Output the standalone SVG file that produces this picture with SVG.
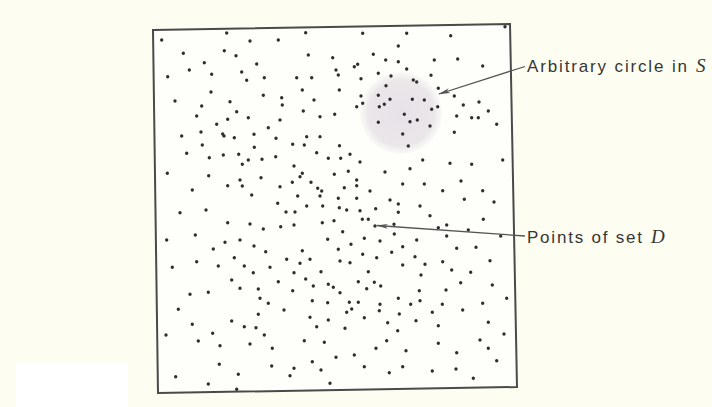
<svg xmlns="http://www.w3.org/2000/svg" width="712" height="407" viewBox="0 0 712 407">
<style>
.lbl{font-family:"Liberation Sans",Arial,sans-serif;font-size:17px;fill:#363636}
.it{font-family:"Liberation Serif","Times New Roman",serif;font-style:italic;font-size:19px;fill:#363636}
.lead{stroke:#555;stroke-width:1.3;fill:none;marker-end:url(#ah)}
.dots{stroke:#2e2e2e;stroke-width:3.4;stroke-linecap:round;fill:none}
</style>
<defs>
<marker id="ah" viewBox="0 0 12 6" refX="11" refY="3" markerWidth="12" markerHeight="6" markerUnits="userSpaceOnUse" orient="auto">
<path d="M0,0.6 L12,3 L0,5.4 L3,3 z" fill="#555"/>
</marker>
<radialGradient id="cg" cx="0.5" cy="0.5" r="0.5">
<stop offset="0" stop-color="#e7e2e7"/>
<stop offset="0.8" stop-color="#eae6ea"/>
<stop offset="1" stop-color="#f1efee" stop-opacity="0.3"/>
</radialGradient>
</defs>
<rect width="712" height="407" fill="#fdfdf1"/>
<g id="frame">
<polygon points="153,30 510,24 517,387 158,393" fill="#fefefa" stroke="#4a4a4a" stroke-width="2"/>
</g>
<g id="circle-s">
<ellipse cx="401" cy="113" rx="41" ry="41" fill="url(#cg)"/>
</g>
<g id="points-d">
<path class="dots" d="M161.7 40h0M183.3 53.3h0M204.3 62.7h0M189.3 70h0M167.7 76.7h0M211.7 74.3h0M224.3 50.7h0M236 55.7h0M250 41h0M278.3 40h0M305.7 32.7h0M308.3 55h0M332.7 57.7h0M336 70h0M338.3 75h0M256.7 64h0M241.7 72h0M246.7 80.3h0M264.3 77.7h0M296.7 77.7h0M311.7 77.7h0M211 92h0M175 101h0M201.7 106h0M230 101.7h0M263.3 95.3h0M281.7 97.7h0M282.3 105h0M302.3 90h0M314 100h0M303.3 111h0M320 116.7h0M334.7 114.3h0M196.7 116h0M227.7 119.3h0M236.7 111.7h0M248.3 117.7h0M280 120h0M216.7 124.3h0M268.3 127.7h0M201 132h0M222.7 134h0M224 136h0M181.7 136h0M234.3 137.7h0M254 134.3h0M276 138.3h0M306.7 136.7h0M320 136.7h0M339.3 90h0M226.7 33h0
M362.7 33.3h0M406.7 33.3h0M450.7 35.7h0M505 26.7h0M398.3 46h0M373.3 54.3h0M385.7 60h0M398.3 61.7h0M434.3 60h0M457.7 59h0M482.7 66h0M354.3 66.7h0M357.7 64.3h0M406.7 69h0M378.3 73.3h0M391 76h0M431 75.3h0M361 78.7h0M413.3 80h0M416.7 82h0M386 85.7h0M438.3 88.3h0M361 96h0M378.3 95.3h0M390 99.3h0M412.3 99.3h0M424.3 100h0M454.3 96h0M362.7 103.3h0M356.7 106.7h0M379.3 106.7h0M384.3 104.3h0M431.7 109.3h0M437.7 106.7h0M463.3 105h0M479 102h0M488.3 111h0M404.3 114.3h0M456.7 116h0M471.7 117.7h0M478.3 117.7h0M496.7 124.3h0M378.3 122.3h0M410 121.7h0M417.3 120h0M430 126h0M402.7 134h0M454.3 132.3h0
M202.3 145h0M186.7 153.3h0M223.3 155h0M238.7 154.3h0M248.3 160h0M254.3 147.3h0M242.3 164.3h0M209.3 157.7h0M262 159.3h0M275.7 156.7h0M292.7 144.3h0M304.3 145h0M316.7 152.7h0M328.3 158.3h0M339.5 145.7h0M167.3 173.3h0M208.7 175.7h0M240 180h0M242.3 186h0M227.7 185.7h0M261 177.7h0M294 166h0M302.3 173.3h0M300 176.7h0M292.3 182.3h0M311 182.3h0M334.3 174.3h0M280 186.7h0M317.7 188.3h0M321.7 191h0M192.3 190h0M251.7 195h0M297.7 196h0M320 196h0M338.3 198.3h0M277.7 203.3h0M306.7 206h0M322.7 206h0M206 210h0M180 212.7h0M286 212h0M295 212h0M339.3 207.7h0M227.7 222.7h0M250 224h0M263.3 229h0M280.7 226.7h0M294 225h0M322.3 222.7h0M334 220.7h0M195.3 235h0M166.7 240h0M225 242.3h0M240 240h0M254 246h0M213.3 249h0M265.7 251.7h0M302.3 250.7h0M327.7 239.3h0M338.3 249.3h0M234.3 257.7h0M286.7 259.3h0M310 259.3h0
M408.3 146h0M350 154.3h0M340.7 158.3h0M360 162h0M422.7 160h0M450 163.3h0M471.7 164.3h0M502.7 160h0M348.3 171.3h0M385 172h0M410 168.7h0M356.7 180h0M356.7 185.7h0M344.3 187.7h0M370 191h0M402.7 184h0M424.3 184h0M442.7 190.7h0M461 181h0M482.7 190.7h0M356.7 198.3h0M390 200h0M398.3 204h0M494 202h0M464.3 199.3h0M346.7 210h0M360 210.7h0M375.7 208.7h0M398.3 212.3h0M420 206h0M430 215.7h0M362.3 219.3h0M368.3 219.3h0M483.3 219.3h0M375 226h0M394 224.3h0M438.3 227.7h0M446.7 225h0M468.3 230h0M500.7 236h0M342.7 231.7h0M394.3 234h0M446.7 236h0M364.3 238.3h0M380 241h0M416.7 240h0M351 244.3h0M402.7 246.7h0M456.7 248.3h0M476 247.3h0M362.7 254.3h0M391.7 252.3h0M415 256.7h0M376.7 257.7h0
M172.3 267.3h0M196.7 261.7h0M218.3 266h0M244.3 266h0M253.3 272.7h0M270 267.3h0M300 263.3h0M294 272.7h0M321 271.7h0M231.7 280h0M240 288.3h0M258.3 289h0M278.3 281.7h0M305.7 279h0M313.3 286h0M328.3 284.3h0M333.3 287.3h0M292.7 290.7h0M190 294.3h0M208.3 292.3h0M260 298.3h0M268.3 303.3h0M312.3 300.7h0M327.7 302.7h0M178.3 309.3h0M284 310h0M258.3 314.3h0M310 317.3h0M328.3 320h0M231.7 321h0M192.3 324.3h0M244.3 326.7h0M256 327.7h0M316.7 326.7h0M166 335h0M212.7 333.3h0M264.3 335h0M198.3 341h0M220 345.7h0M250 344h0M272.3 348.3h0M304.3 340.7h0M324.3 342.3h0M336 357.3h0M219.3 364.3h0M271.7 366h0M294 368.3h0M312.3 361.7h0M321 370h0M175.7 376.7h0M238.3 374.3h0M290 375.7h0M208.3 384h0M330 383.3h0M236.7 389.3h0
M340 261h0M350 262.7h0M402.7 265h0M425 264.3h0M442.7 261.7h0M490 260.7h0M368.3 271.7h0M421 275h0M451.7 270h0M470.7 272.3h0M358.3 281.7h0M374.3 282.3h0M380.7 286h0M366.7 288.7h0M340 292.7h0M419.3 290.7h0M446 290h0M460.7 282.7h0M492.3 285h0M506.7 298.3h0M398.3 298.3h0M410.7 304.3h0M420 300.7h0M442.3 304.3h0M482.7 303.3h0M349.3 302.3h0M358.3 302.3h0M380 304.3h0M379.3 310.7h0M351.7 309h0M346.7 312.3h0M399.3 314h0M432.3 312.3h0M462.7 310h0M364.3 317.7h0M416 320.7h0M387.7 322.7h0M438.3 325.7h0M488.3 322.3h0M345 328.3h0M397.7 330.7h0M504 334h0M386.7 340.7h0M438.3 343.3h0M480 340h0M376 348.3h0M406 350.7h0M488.3 348.3h0M456.7 352.7h0M354.3 355h0M496.7 360.7h0M364.3 366.7h0M402.7 366.7h0M432.3 371h0M456 369h0M389.3 372.7h0M473.3 378.3h0"/>
</g>
<g id="connectors">
<line class="lead" x1="525" y1="66.5" x2="439" y2="94"/>
<line class="lead" x1="525" y1="236" x2="377" y2="225.5"/>
</g>
<g id="label-circle">
<text x="527" y="72" class="lbl" textLength="160" lengthAdjust="spacing">Arbitrary circle in</text>
<text x="696" y="72" class="it">S</text>
</g>
<g id="label-points">
<text x="527" y="243" class="lbl" textLength="115" lengthAdjust="spacing">Points of set</text>
<text x="651" y="243" class="it">D</text>
</g>
<rect x="16" y="364" width="112" height="43" fill="#ffffff"/>
</svg>
